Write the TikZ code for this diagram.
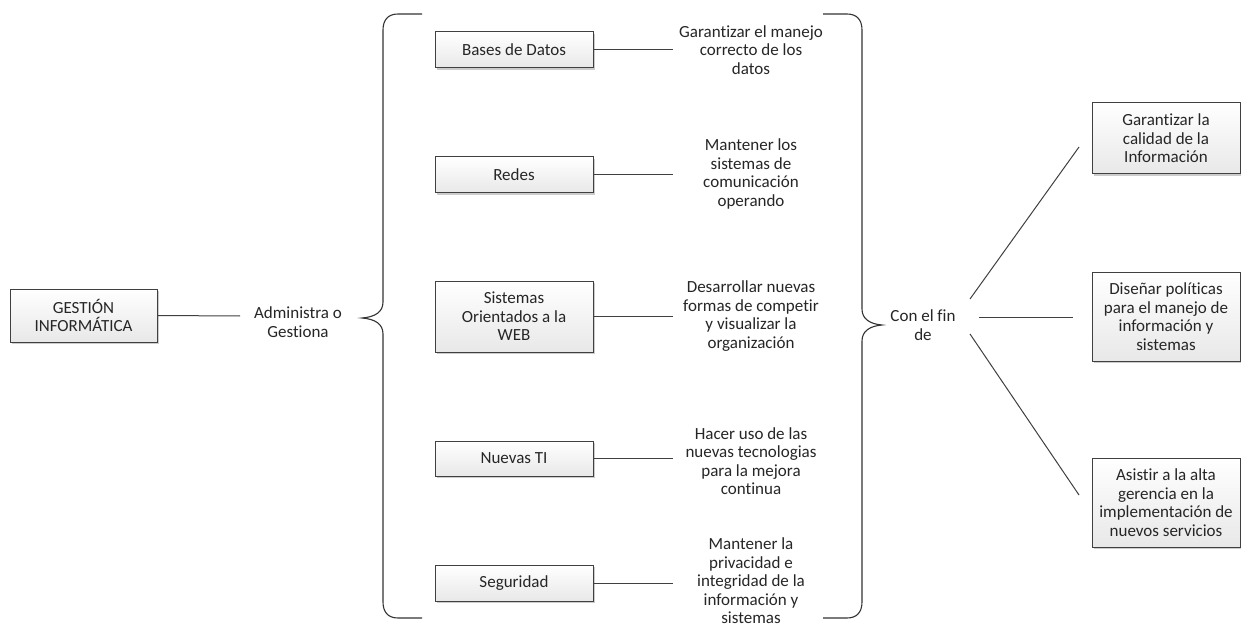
\documentclass[tikz,border=0pt]{standalone}
\usepackage{fontspec}
\setmainfont{Carlito}[Ligatures=NoCommon]
\usetikzlibrary{shadows}
\begin{document}
\begin{tikzpicture}[x=1pt,y=-1pt,
  every node/.style={font=\fontsize{17}{18.5}\selectfont, text=black!85},
  box/.style={draw=black!75, line width=1pt, top color=white, bottom color=black!9,
    drop shadow={shadow xshift=2pt, shadow yshift=-2pt, opacity=0.2, fill=black},
    align=center, inner sep=2pt},
  lbl/.style={align=center, inner sep=0pt},
  conn/.style={draw=black!75, line width=1pt},
  brace/.style={draw=black!80, line width=1.1pt}]
\useasboundingbox (0,0) rectangle (1241,628);
\fill[white] (0,0) rectangle (1241,628);

% root
\node[box, minimum width=147pt, minimum height=53pt] (g) at (83.5,315.5) {GESTIÓN\\INFORMÁTICA};
\node[lbl] (adm) at (298,322) {Administra o\\Gestiona};
\coordinate (admW) at (240,316);
\draw[conn] (g.east) -- (admW);

% left brace
\draw[brace] (422,14) -- (398,14) .. controls (388,14) and (383,20) .. (383,30)
  -- (383,302) .. controls (383,312) and (375,317) .. (362,318)
  .. controls (375,319) and (383,324) .. (383,334)
  -- (383,602) .. controls (383,612) and (388,618) .. (398,618) -- (422,618);

% right brace
\draw[brace] (823,14) -- (847,14) .. controls (857,14) and (862,20) .. (862,30)
  -- (862,309) .. controls (862,319) and (870,324) .. (882,325)
  .. controls (870,326) and (862,331) .. (862,341)
  -- (862,602) .. controls (862,612) and (857,618) .. (847,618) -- (823,618);

% middle boxes
\node[box, minimum width=158pt, minimum height=36pt] (bd) at (514,50) {Bases de Datos};
\node[box, minimum width=158pt, minimum height=36pt] (re) at (514,175) {Redes};
\node[box, minimum width=158pt, minimum height=71pt] (sw) at (514,316.5) {Sistemas\\Orientados a la\\WEB};
\node[box, minimum width=158pt, minimum height=35pt] (nt) at (514,458.5) {Nuevas TI};
\node[box, minimum width=158pt, minimum height=36pt] (se) at (514,583) {Seguridad};

% descriptions
\node[lbl] (d1) at (751,50) {Garantizar el manejo\\correcto de los\\datos};
\node[lbl] (d2) at (751,174) {Mantener los\\sistemas de\\comunicación\\operando};
\node[lbl] (d3) at (751,316) {Desarrollar nuevas\\formas de competir\\y visualizar la\\organización};
\node[lbl] (d4) at (751,461) {Hacer uso de las\\nuevas tecnologias\\para la mejora\\continua};
\node[lbl] (d5) at (751,581) {Mantener la\\privacidad e\\integridad de la\\información y\\sistemas};

\coordinate (e1) at (673,50);
\coordinate (e2) at (673,175);
\coordinate (e3) at (673,316.5);
\coordinate (e4) at (673,458.5);
\coordinate (e5) at (673,583);
\draw[conn] (bd.east) -- (e1);
\draw[conn] (re.east) -- (e2);
\draw[conn] (sw.east) -- (e3);
\draw[conn] (nt.east) -- (e4);
\draw[conn] (se.east) -- (e5);

% con el fin de
\node[lbl] (fin) at (923,325) {Con el fin\\de};
\coordinate (f1) at (970,299);
\coordinate (f2) at (979,317);
\coordinate (f3) at (970,334);
\coordinate (t1) at (1079,147);
\coordinate (t2) at (1073,317);
\coordinate (t3) at (1079,495);
\draw[conn] (f1) -- (t1);
\draw[conn] (f2) -- (t2);
\draw[conn] (f3) -- (t3);

% right boxes
\node[box, minimum width=148pt, minimum height=71pt] (r1) at (1166,138.5) {Garantizar la\\calidad de la\\Información};
\node[box, minimum width=148pt, minimum height=89pt] (r2) at (1166,316.5) {Diseñar políticas\\para el manejo de\\información y\\sistemas};
\node[box, minimum width=148pt, minimum height=89pt] (r3) at (1166,502.5) {Asistir a la alta\\gerencia en la\\implementación de\\nuevos servicios};
\end{tikzpicture}
\end{document}
